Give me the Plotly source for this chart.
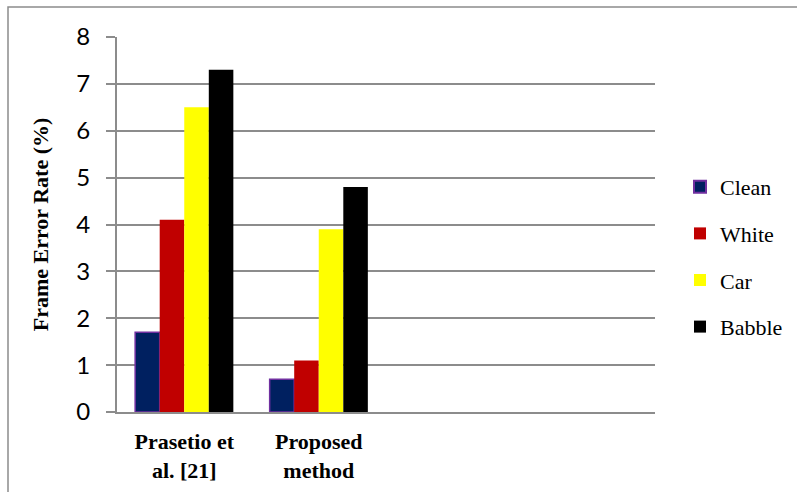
import plotly.graph_objects as go

categories = ["<b>Prasetio et<br>al. [21]</b>", "<b>Proposed<br>method</b>"]
series_names = ["Clean", "White", "Car", "Babble"]
clean = [1.7, 0.7]
white = [4.1, 1.1]
car = [6.5, 3.9]
babble = [7.3, 4.8]
y_ticks = [0, 1, 2, 3, 4, 5, 6, 7, 8]

fills = ["#002060", "#C00000", "#FFFF00", "#000000"]
edges = ["#7030A0", "#C00000", "#FFFF00", "#000000"]
edge_w = [1.5, 0, 0, 0]

W, H = 797, 492
L, R, T, B = 117, 142, 37, 80

fig = go.Figure()
for name, vals, fc, ec, ew in zip(series_names, [clean, white, car, babble], fills, edges, edge_w):
    fig.add_trace(go.Bar(
        x=categories, y=vals, name=name, legendgroup=name,
        marker=dict(color=fc, line=dict(color=ec, width=ew)),
    ))

serif = "Times New Roman, Liberation Serif, serif"
sans = "Lato"

pw, ph = W - L - R, H - T - B
fig.add_shape(
    type="path", xref="paper", yref="paper",
    path=f"M {(8 - L) / pw} {(H - B - 495) / ph} L {(8 - L) / pw} {(H - B - 7) / ph} L {(800 - L) / pw} {(H - B - 7) / ph}",
    line=dict(color="#8c8c8c", width=1.5), layer="below",
)

fig.update_layout(
    width=W, height=H,
    margin=dict(l=L, r=R, t=T, b=B, pad=0, autoexpand=False),
    font=dict(family=serif, color="black"),
    paper_bgcolor="white", plot_bgcolor="white",
    barmode="group", bargap=0.27, bargroupgap=0,
    showlegend=True,
    legend=dict(
        x=(680 - L) / pw, y=(H - B - 166) / ph, xanchor="left", yanchor="top",
        font=dict(family=serif, size=22, color="black"),
        tracegroupgap=15, itemsizing="constant", itemwidth=30,
        bgcolor="rgba(0,0,0,0)",
    ),
    xaxis=dict(
        type="category", categoryarray=categories, range=[-0.5, 3.5],
        showgrid=False, showline=True, linecolor="#8c8c8c", linewidth=2,
        ticks="", ticklabelstandoff=9, automargin=False,
        tickfont=dict(family=serif, size=22, color="black"),
        fixedrange=True,
    ),
    yaxis=dict(
        range=[0, 8], tickvals=y_ticks, ticktext=[str(v) for v in y_ticks],
        showgrid=True, gridcolor="#8c8c8c", gridwidth=2,
        showline=True, linecolor="#8c8c8c", linewidth=2,
        ticks="outside", ticklen=9, tickcolor="#8c8c8c", tickwidth=2,
        ticklabelstandoff=11, automargin=False,
        tickfont=dict(family=sans, size=24, color="black"),
        title=dict(text="<b>Frame Error Rate (%)</b>", font=dict(family=serif, size=22, color="black"), standoff=22),
        zeroline=False,
    ),
)

fig.write_html("out.html")
